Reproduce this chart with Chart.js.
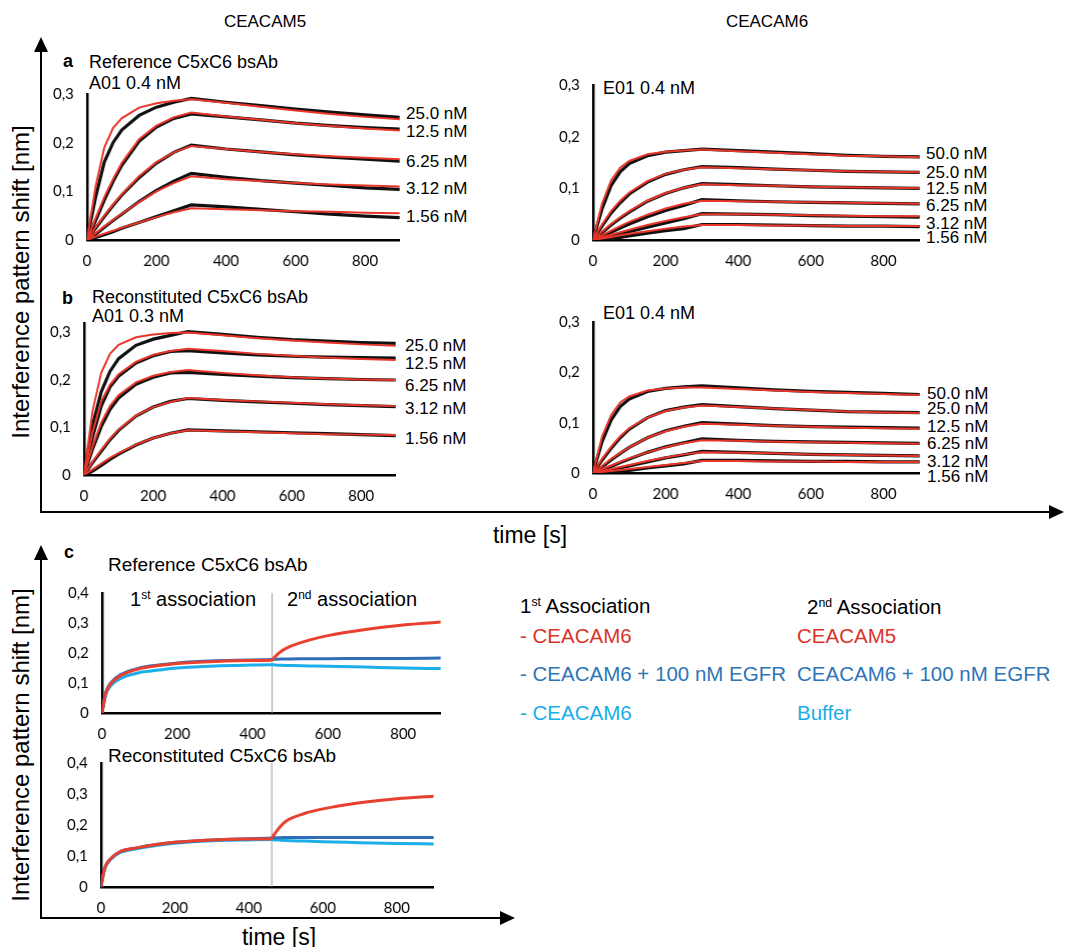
<!DOCTYPE html>
<html>
<head>
<meta charset="utf-8">
<script src="https://cdn.jsdelivr.net/npm/chart.js@4.4.1/dist/chart.umd.min.js"></script>
<style>
  body { margin: 0; background: #fff; }
  #fig { position: relative; width: 1065px; height: 947px; font-family: "Liberation Sans", Arial, sans-serif; color: #000; }
  .t { position: absolute; white-space: nowrap; line-height: 1; transform: translateY(-50%); }
  .c { transform: translate(-50%, -50%); }
  .box { position: absolute; }
  .conc { font-size: 17px; }
  .ttl { font-size: 18px; }
  .lg { font-size: 20.5px; }
  sup { font-size: 0.6em; vertical-align: 0.55em; line-height: 0; }
  .ylab { position: absolute; font-size: 24px; white-space: nowrap; transform: translate(-50%, -50%) rotate(-90deg); }
</style>
</head>
<body>
<div id="fig">
  <svg width="1065" height="947" style="position:absolute;left:0;top:0">
    <g stroke="#000" stroke-width="2" fill="#000">
      <line x1="41" y1="512" x2="41" y2="48" />
      <polygon points="41,37 34,52 48,52" stroke="none" />
      <line x1="40" y1="512" x2="1052" y2="512" />
      <polygon points="1064,512 1049,505 1049,519" stroke="none" />
      <line x1="41" y1="918" x2="41" y2="556" />
      <polygon points="41,545 34,560 48,560" stroke="none" />
      <line x1="40" y1="918" x2="503" y2="918" />
      <polygon points="515,918 500,911 500,925" stroke="none" />
    </g>
  </svg>

  <div class="t c ttl" style="left:265px;top:21px;font-size:17px">CEACAM5</div>
  <div class="t c ttl" style="left:767px;top:21px;font-size:17px">CEACAM6</div>
  <div class="ylab" style="left:21px;top:282px">Interference pattern shift [nm]</div>
  <div class="ylab" style="left:21px;top:745px">Interference pattern shift [nm]</div>
  <div class="t c" style="left:530px;top:535px;font-size:23px">time [s]</div>
  <div class="t c" style="left:279px;top:937px;font-size:23px">time [s]</div>

  <div class="t ttl" style="left:63px;top:61px;font-weight:bold">a</div>
  <div class="t ttl" style="left:89px;top:62px">Reference C5xC6 bsAb</div>
  <div class="t ttl" style="left:89px;top:83px">A01 0.4 nM</div>
  <div class="t ttl" style="left:603px;top:88px">E01 0.4 nM</div>
  <div class="t ttl" style="left:62px;top:298px;font-weight:bold">b</div>
  <div class="t ttl" style="left:92px;top:297px">Reconstituted C5xC6 bsAb</div>
  <div class="t ttl" style="left:92px;top:316px">A01 0.3 nM</div>
  <div class="t ttl" style="left:603px;top:313px">E01 0.4 nM</div>
  <div class="t ttl" style="left:64px;top:552px;font-weight:bold">c</div>
  <div class="t ttl" style="left:108px;top:564px;font-size:19px">Reference C5xC6 bsAb</div>
  <div class="t ttl" style="left:108px;top:755px;font-size:19px">Reconstituted C5xC6 bsAb</div>
  <div class="t" style="left:130px;top:599px;font-size:20px">1<sup>st</sup> association</div>
  <div class="t" style="left:287px;top:599px;font-size:20px">2<sup>nd</sup> association</div>

  <div class="t lg" style="left:520px;top:606px">1<sup>st</sup> Association</div>
  <div class="t lg" style="left:520px;top:636px;color:#d9352b">- CEACAM6</div>
  <div class="t lg" style="left:520px;top:674px;color:#2e75b6">- CEACAM6 + 100 nM EGFR</div>
  <div class="t lg" style="left:520px;top:713px;color:#19aee6">- CEACAM6</div>
  <div class="t lg" style="left:807px;top:607px">2<sup>nd</sup> Association</div>
  <div class="t lg" style="left:797px;top:636px;color:#d9352b">CEACAM5</div>
  <div class="t lg" style="left:797px;top:674px;color:#2e75b6">CEACAM6 + 100 nM EGFR</div>
  <div class="t lg" style="left:797px;top:713px;color:#19aee6">Buffer</div>

  <div id="concA5"></div><div id="concA6"></div><div id="concB5"></div><div id="concB6"></div>

  <div class="box" id="boxA5"><canvas id="chA5"></canvas></div>
  <div class="box" id="boxA6"><canvas id="chA6"></canvas></div>
  <div class="box" id="boxB5"><canvas id="chB5"></canvas></div>
  <div class="box" id="boxB6"><canvas id="chB6"></canvas></div>
  <div class="box" id="boxC1"><canvas id="chC1"></canvas></div>
  <div class="box" id="boxC2"><canvas id="chC2"></canvas></div>
</div>

<script>
// time points (s) for the kinetic panels a and b
const kinTime = [0, 25, 50, 75, 100, 150, 200, 250, 300, 400, 500, 600, 700, 800, 900];

// tick labels
const xTicks = [0, 200, 400, 600, 800];
const yTicksKin = [0, 0.1, 0.2, 0.3];
const yTicksSeq = [0, 0.1, 0.2, 0.3, 0.4];

const concC5 = ["25.0 nM", "12.5 nM", "6.25 nM", "3.12 nM", "1.56 nM"];
const concC6 = ["50.0 nM", "25.0 nM", "12.5 nM", "6.25 nM", "3.12 nM", "1.56 nM"];

// a, CEACAM5 (reference bsAb) - red fits and black measured traces
const fitA5 = [
  [0, 0.110, 0.190, 0.230, 0.250, 0.272, 0.281, 0.286, 0.289, 0.282, 0.274, 0.266, 0.259, 0.253, 0.248],
  [0, 0.045, 0.088, 0.125, 0.158, 0.207, 0.235, 0.252, 0.262, 0.254, 0.247, 0.240, 0.234, 0.229, 0.225],
  [0, 0.026, 0.050, 0.073, 0.094, 0.131, 0.160, 0.180, 0.193, 0.187, 0.181, 0.176, 0.172, 0.169, 0.166],
  [0, 0.014, 0.028, 0.041, 0.054, 0.078, 0.100, 0.117, 0.131, 0.125, 0.121, 0.117, 0.114, 0.112, 0.110],
  [0, 0.007, 0.013, 0.019, 0.025, 0.036, 0.047, 0.057, 0.065, 0.063, 0.061, 0.059, 0.058, 0.056, 0.055]
];
const rawA5 = [
  [0, 0.088, 0.160, 0.200, 0.226, 0.256, 0.273, 0.283, 0.291, 0.283, 0.276, 0.269, 0.263, 0.257, 0.252],
  [0, 0.040, 0.082, 0.120, 0.153, 0.203, 0.232, 0.250, 0.259, 0.253, 0.247, 0.240, 0.235, 0.231, 0.228],
  [0, 0.024, 0.048, 0.071, 0.092, 0.128, 0.158, 0.180, 0.195, 0.187, 0.181, 0.175, 0.170, 0.166, 0.162],
  [0, 0.012, 0.026, 0.040, 0.053, 0.079, 0.102, 0.121, 0.137, 0.129, 0.122, 0.117, 0.112, 0.107, 0.104],
  [0, 0.005, 0.011, 0.017, 0.024, 0.036, 0.048, 0.060, 0.072, 0.068, 0.063, 0.058, 0.053, 0.049, 0.046]
];

// a, CEACAM6
const fitA6 = [
  [0, 0.070, 0.115, 0.140, 0.153, 0.166, 0.171, 0.173, 0.175, 0.172, 0.169, 0.166, 0.163, 0.162, 0.160],
  [0, 0.030, 0.056, 0.076, 0.092, 0.114, 0.128, 0.136, 0.141, 0.139, 0.137, 0.135, 0.133, 0.132, 0.131],
  [0, 0.016, 0.031, 0.044, 0.056, 0.076, 0.091, 0.101, 0.108, 0.106, 0.105, 0.103, 0.102, 0.101, 0.100],
  [0, 0.009, 0.018, 0.027, 0.035, 0.049, 0.061, 0.070, 0.076, 0.075, 0.074, 0.073, 0.072, 0.071, 0.070],
  [0, 0.005, 0.010, 0.015, 0.020, 0.029, 0.037, 0.044, 0.050, 0.050, 0.049, 0.048, 0.047, 0.046, 0.046],
  [0, 0.003, 0.006, 0.009, 0.012, 0.017, 0.022, 0.026, 0.029, 0.029, 0.028, 0.028, 0.027, 0.027, 0.027]
];
const rawA6 = [
  [0, 0.060, 0.105, 0.132, 0.148, 0.163, 0.170, 0.173, 0.176, 0.173, 0.170, 0.167, 0.164, 0.162, 0.161],
  [0, 0.027, 0.052, 0.072, 0.089, 0.112, 0.127, 0.136, 0.142, 0.140, 0.137, 0.135, 0.133, 0.132, 0.131],
  [0, 0.014, 0.029, 0.042, 0.054, 0.075, 0.090, 0.101, 0.109, 0.107, 0.105, 0.103, 0.102, 0.101, 0.100],
  [0, 0.007, 0.015, 0.023, 0.031, 0.045, 0.057, 0.067, 0.078, 0.076, 0.074, 0.073, 0.072, 0.071, 0.070],
  [0, 0.003, 0.007, 0.011, 0.016, 0.025, 0.033, 0.041, 0.051, 0.050, 0.049, 0.047, 0.046, 0.045, 0.044],
  [0, 0.000, 0.002, 0.005, 0.008, 0.013, 0.018, 0.022, 0.030, 0.030, 0.029, 0.028, 0.027, 0.027, 0.026]
];

// b, CEACAM5 (reconstituted bsAb)
const fitB5 = [
  [0, 0.135, 0.215, 0.255, 0.274, 0.290, 0.296, 0.299, 0.300, 0.294, 0.288, 0.283, 0.279, 0.275, 0.272],
  [0, 0.090, 0.155, 0.190, 0.212, 0.238, 0.253, 0.261, 0.266, 0.261, 0.255, 0.251, 0.247, 0.244, 0.242],
  [0, 0.060, 0.110, 0.145, 0.168, 0.195, 0.209, 0.217, 0.221, 0.215, 0.210, 0.206, 0.203, 0.201, 0.200],
  [0, 0.028, 0.053, 0.076, 0.096, 0.125, 0.143, 0.154, 0.162, 0.158, 0.155, 0.152, 0.149, 0.147, 0.145],
  [0, 0.012, 0.024, 0.036, 0.046, 0.064, 0.078, 0.088, 0.094, 0.092, 0.090, 0.088, 0.086, 0.085, 0.084]
];
const rawB5 = [
  [0, 0.105, 0.175, 0.218, 0.245, 0.273, 0.286, 0.294, 0.302, 0.296, 0.290, 0.285, 0.282, 0.279, 0.277],
  [0, 0.080, 0.145, 0.185, 0.208, 0.236, 0.251, 0.260, 0.262, 0.257, 0.253, 0.250, 0.248, 0.247, 0.246],
  [0, 0.055, 0.102, 0.138, 0.162, 0.191, 0.206, 0.215, 0.216, 0.212, 0.208, 0.205, 0.203, 0.201, 0.200],
  [0, 0.026, 0.050, 0.074, 0.094, 0.124, 0.143, 0.155, 0.161, 0.157, 0.154, 0.151, 0.148, 0.146, 0.144],
  [0, 0.008, 0.020, 0.033, 0.044, 0.063, 0.078, 0.088, 0.095, 0.093, 0.091, 0.089, 0.087, 0.085, 0.083]
];

// b, CEACAM6
const fitB6 = [
  [0, 0.072, 0.115, 0.140, 0.152, 0.164, 0.168, 0.170, 0.170, 0.167, 0.164, 0.161, 0.159, 0.157, 0.155],
  [0, 0.028, 0.052, 0.073, 0.089, 0.110, 0.123, 0.130, 0.134, 0.131, 0.128, 0.125, 0.122, 0.120, 0.119],
  [0, 0.014, 0.028, 0.040, 0.051, 0.070, 0.083, 0.092, 0.098, 0.096, 0.094, 0.092, 0.090, 0.089, 0.088],
  [0, 0.008, 0.015, 0.022, 0.029, 0.041, 0.051, 0.059, 0.065, 0.064, 0.062, 0.061, 0.060, 0.059, 0.058],
  [0, 0.004, 0.008, 0.012, 0.016, 0.024, 0.031, 0.037, 0.041, 0.040, 0.039, 0.037, 0.036, 0.035, 0.034],
  [0, 0.002, 0.004, 0.006, 0.008, 0.012, 0.016, 0.020, 0.024, 0.024, 0.023, 0.023, 0.022, 0.022, 0.022]
];
const rawB6 = [
  [0, 0.062, 0.105, 0.132, 0.147, 0.162, 0.168, 0.171, 0.173, 0.169, 0.165, 0.162, 0.160, 0.158, 0.156],
  [0, 0.025, 0.049, 0.070, 0.087, 0.110, 0.124, 0.131, 0.136, 0.132, 0.128, 0.125, 0.122, 0.121, 0.120],
  [0, 0.012, 0.026, 0.039, 0.051, 0.070, 0.084, 0.093, 0.100, 0.097, 0.094, 0.092, 0.091, 0.090, 0.089],
  [0, 0.006, 0.013, 0.021, 0.028, 0.041, 0.052, 0.060, 0.068, 0.065, 0.063, 0.062, 0.061, 0.060, 0.059],
  [0, 0.002, 0.006, 0.010, 0.014, 0.022, 0.030, 0.036, 0.043, 0.041, 0.039, 0.037, 0.036, 0.035, 0.034],
  [0, 0.000, 0.001, 0.003, 0.005, 0.010, 0.014, 0.018, 0.025, 0.025, 0.024, 0.023, 0.023, 0.022, 0.022]
];

// c, sequential association (reference bsAb)
const seqTimeRef = [0, 10, 25, 50, 100, 150, 200, 300, 400, 450, 460, 475, 500, 550, 600, 700, 800, 900];
const refC5after6 = [0, 0.065, 0.100, 0.125, 0.148, 0.158, 0.165, 0.172, 0.175, 0.176, 0.188, 0.205, 0.222, 0.243, 0.258, 0.278, 0.293, 0.303];
const refC6egfr = [0, 0.068, 0.103, 0.128, 0.150, 0.160, 0.167, 0.174, 0.177, 0.178, 0.179, 0.180, 0.180, 0.181, 0.181, 0.182, 0.182, 0.183];
const refBuffer = [0, 0.060, 0.093, 0.115, 0.135, 0.143, 0.150, 0.157, 0.160, 0.161, 0.160, 0.159, 0.158, 0.157, 0.156, 0.153, 0.150, 0.148];
const switchRef = 452;

// c, sequential association (reconstituted bsAb)
const seqTimeRec = [0, 10, 25, 50, 100, 150, 200, 300, 400, 460, 470, 485, 500, 550, 600, 700, 800, 900];
const recC5after6 = [0, 0.060, 0.090, 0.113, 0.127, 0.137, 0.144, 0.152, 0.155, 0.156, 0.172, 0.195, 0.212, 0.237, 0.252, 0.272, 0.285, 0.293];
const recC6egfr = [0, 0.060, 0.090, 0.113, 0.127, 0.137, 0.144, 0.152, 0.156, 0.158, 0.159, 0.159, 0.160, 0.160, 0.160, 0.160, 0.160, 0.160];
const recBuffer = [0, 0.057, 0.087, 0.110, 0.124, 0.134, 0.141, 0.149, 0.152, 0.153, 0.152, 0.151, 0.150, 0.148, 0.146, 0.143, 0.140, 0.139];
const switchRec = 462;

const FIT_RED = "#e8362a";
const RED = "#e8402f";
const DARK_BLUE = "#2f6fb8";
const LIGHT_BLUE = "#1caee8";
const tickFont = { family: "Lato, 'Open Sans', sans-serif", size: 15 };

const pts = (xs, ys) => xs.map((x, i) => ({ x, y: ys[i] }));
const fmtY = v => v === 0 ? "0" : v.toFixed(1).replace(".", ",");

function baseOptions(yMax, yTicks) {
  return {
    animation: false,
    responsive: true,
    maintainAspectRatio: false,
    plugins: { legend: { display: false }, tooltip: { enabled: false } },
    elements: { point: { radius: 0 } },
    layout: { padding: { top: 10, right: 10 } },
    scales: {
      x: {
        type: "linear", min: 0, max: 900,
        grid: { display: false, drawTicks: false },
        border: { display: true, color: "#000", width: 2.5 },
        ticks: { padding: 12, color: "#000", font: tickFont, maxRotation: 0, autoSkip: false },
        afterBuildTicks: s => { s.ticks = xTicks.map(v => ({ value: v })); }
      },
      y: {
        type: "linear", min: 0, max: yMax,
        grid: { display: false, drawTicks: false },
        border: { display: true, color: "#000", width: 2.5 },
        ticks: { padding: 13, color: "#000", font: tickFont, autoSkip: false, callback: fmtY },
        afterBuildTicks: s => { s.ticks = yTicks.map(v => ({ value: v })); }
      }
    }
  };
}

// shift and resize the box so the chart area lands on the wanted pixels
function place(chart, box, area) {
  for (let k = 0; k < 3; k++) {
    const ca = chart.chartArea;
    const w = box.clientWidth + (area.right - area.left) - (ca.right - ca.left);
    const h = box.clientHeight + (area.bottom - area.top) - (ca.bottom - ca.top);
    box.style.left = (area.left - ca.left) + "px";
    box.style.top = (area.top - ca.top) + "px";
    box.style.width = w + "px";
    box.style.height = h + "px";
    chart.resize();
  }
}

function makeChart(name, area, datasets, yMax, yTicks) {
  const box = document.getElementById("box" + name);
  box.style.left = (area.left - 50) + "px";
  box.style.top = (area.top - 10) + "px";
  box.style.width = (area.right - area.left + 60) + "px";
  box.style.height = (area.bottom - area.top + 40) + "px";
  const chart = new Chart(document.getElementById("ch" + name), {
    type: "line",
    data: { datasets },
    options: baseOptions(yMax, yTicks)
  });
  place(chart, box, area);
  return chart;
}

function kinSets(fits, raws) {
  const sets = [];
  fits.forEach(f => sets.push({ data: pts(kinTime, f), borderColor: FIT_RED, borderWidth: 2, tension: 0, order: 1 }));
  raws.forEach(r => sets.push({ data: pts(kinTime, r), borderColor: "#111", borderWidth: 3.2, tension: 0, order: 2 }));
  return sets;
}

function seqSets(times, red, dark, light, switchT) {
  return [
    { data: pts(times, red), borderColor: RED, borderWidth: 3, cubicInterpolationMode: "monotone", order: 1 },
    { data: pts(times, dark), borderColor: DARK_BLUE, borderWidth: 3, cubicInterpolationMode: "monotone", order: 2 },
    { data: pts(times, light), borderColor: LIGHT_BLUE, borderWidth: 3, cubicInterpolationMode: "monotone", order: 3 },
    { data: [{ x: switchT, y: 0 }, { x: switchT, y: 0.4 }], borderColor: "#9a9a9a", borderWidth: 1, order: 4 }
  ];
}

function concLabels(id, labels, left, tops) {
  const el = document.getElementById(id);
  labels.forEach((lab, i) => {
    const d = document.createElement("div");
    d.className = "t conc";
    d.style.left = left + "px";
    d.style.top = tops[i] + "px";
    d.textContent = lab;
    el.appendChild(d);
  });
}

makeChart("A5", { left: 87, top: 94, right: 399, bottom: 240 }, kinSets(fitA5, rawA5), 0.3, yTicksKin);
makeChart("A6", { left: 593, top: 85, right: 919, bottom: 240 }, kinSets(fitA6, rawA6), 0.3, yTicksKin);
makeChart("B5", { left: 84, top: 323, right: 395, bottom: 475 }, kinSets(fitB5, rawB5), 0.32, yTicksKin);
makeChart("B6", { left: 593, top: 322, right: 919, bottom: 473 }, kinSets(fitB6, rawB6), 0.3, yTicksKin);
makeChart("C1", { left: 102, top: 593, right: 440, bottom: 713 }, seqSets(seqTimeRef, refC5after6, refC6egfr, refBuffer, switchRef), 0.4, yTicksSeq);
makeChart("C2", { left: 101, top: 763, right: 433, bottom: 887 }, seqSets(seqTimeRec, recC5after6, recC6egfr, recBuffer, switchRec), 0.4, yTicksSeq);

concLabels("concA5", concC5, 406, [113, 131, 161, 188, 216]);
concLabels("concA6", concC6, 926, [153, 172, 188, 205, 223, 237]);
concLabels("concB5", concC5, 405, [345, 363, 385, 408, 438]);
concLabels("concB6", concC6, 927, [393, 408, 426, 443, 461, 476]);
</script>
</body>
</html>
